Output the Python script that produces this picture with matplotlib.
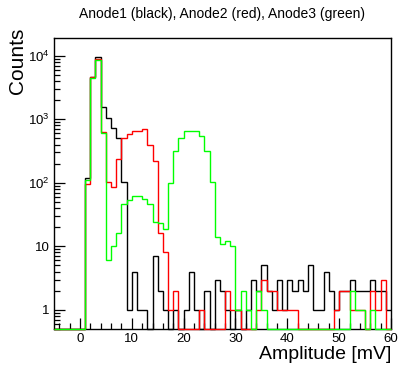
import matplotlib
matplotlib.use('Agg')
import matplotlib.pyplot as plt
import numpy as np
from matplotlib.ticker import LogLocator, MultipleLocator, NullFormatter

plt.rcParams['font.family'] = 'Liberation Sans'
plt.rcParams['mathtext.fontset'] = 'custom'
plt.rcParams['mathtext.rm'] = 'Liberation Sans'
plt.rcParams['mathtext.it'] = 'Liberation Sans:italic'

# 1 mV bins from -5 to 60
edges = np.arange(-5, 61)

# counts per bin, bins starting at -5 mV
anode1 = [0, 0, 0, 0, 0, 0,
          121, 4700, 9400, 1560, 1040, 740, 500, 104, 1, 4,
          1, 1, 0, 7, 2, 1, 0, 1, 0, 1,
          4, 1, 0, 2, 0, 3, 2, 1, 0, 1,
          0, 1, 3, 2, 5, 2, 1, 3, 1, 3,
          2, 3, 2, 5, 1, 1, 4, 2, 1, 2,
          2, 3, 2, 2, 2, 3, 2, 2, 1]
anode2 = [0, 0, 0, 0, 0, 0,
          97, 4650, 9000, 620, 104, 85, 235, 500, 595, 645,
          665, 690, 400, 220, 16, 8, 1, 2, 0, 0,
          0, 0, 1, 0, 0, 0, 0, 2, 1, 1,
          0, 0, 0, 1, 3, 2, 2, 1, 1, 1,
          1, 0, 0, 0, 0, 0, 0, 0, 1, 2,
          2, 1, 1, 1, 0, 2, 1, 3, 0]
anode3 = [0, 0, 0, 0, 0, 0,
          110, 4500, 8500, 600, 6, 10, 16, 47, 54, 63,
          61, 56, 46, 24, 23, 19, 100, 316, 500, 650,
          660, 650, 540, 316, 104, 14, 11, 12, 10, 1,
          2, 1, 0, 2, 1, 0, 0, 0, 0, 0,
          0, 0, 0, 0, 0, 0, 0, 0, 0, 0,
          0, 2, 1, 1, 0, 1, 0, 0, 0]

ymin, ymax = 0.5, 1.9e4

fig = plt.figure(figsize=(3.99, 3.65), dpi=100)
ax = fig.add_axes([54/399, 1-329/365, 337/399, 291/365])

for vals, col in [(anode1, 'black'), (anode2, 'red'), (anode3, '#00ff00')]:
    v = np.array(vals, dtype=float)
    v = np.where(v > 0, v, ymin)  # empty bins sit on the frame, like ROOT
    ax.stairs(v, edges, color=col, lw=1.0, baseline=None, zorder=3, clip_on=False)

ax.set_yscale('log')
ax.set_xlim(-5, 60)
ax.set_ylim(ymin, ymax)

ax.set_yticks([1, 10, 100, 1000, 10000])
ax.set_yticklabels(['1', '10', '$10^{2}$', '$10^{3}$', '$10^{4}$'])
ax.yaxis.set_minor_locator(LogLocator(base=10, subs=range(2, 10)))
ax.yaxis.set_minor_formatter(NullFormatter())
ax.xaxis.set_major_locator(MultipleLocator(10))
ax.xaxis.set_minor_locator(MultipleLocator(2))

ax.tick_params(which='both', direction='in', top=False, right=False,
               labelsize=9.5, width=0.9)
ax.tick_params(which='major', length=8)
ax.tick_params(which='minor', length=4)
ax.tick_params(axis='x', pad=3)
ax.tick_params(axis='y', pad=3)
for s in ax.spines.values():
    s.set_linewidth(1.0)

fig.text(0.557, 0.962, 'Anode1 (black), Anode2 (red), Anode3 (green)',
         ha='center', va='center', fontsize=10)
fig.text(0.044, 0.923, 'Counts', rotation=90, ha='center', va='top', fontsize=15)
fig.text(0.982, 0.006, 'Amplitude [mV]', ha='right', va='bottom', fontsize=14)

fig.savefig('out.png', dpi=100)
